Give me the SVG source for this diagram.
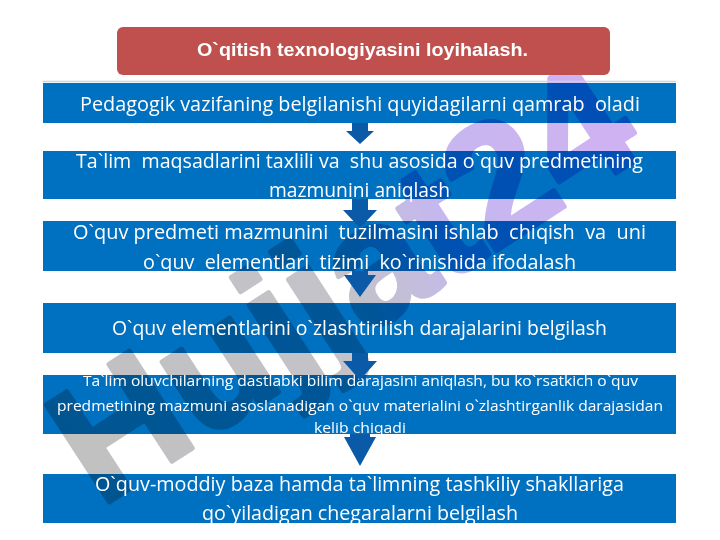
<svg xmlns="http://www.w3.org/2000/svg" width="720" height="540" viewBox="0 0 720 540">
<style>
.box{fill:#0070c0;mix-blend-mode:multiply}
.t{font-family:"Open Sans","Noto Sans","DejaVu Sans",sans-serif;font-size:20px;fill:#ffffff;white-space:pre}
.s{font-size:15px}
.arr{fill:#0a5aa8}
.hd{font-family:"Liberation Sans",Arial,sans-serif;font-size:19px;font-weight:bold;fill:#ffffff}
.wm{font-family:"Liberation Sans",Arial,sans-serif;font-size:168px;font-weight:bold}
</style>
<defs>
<linearGradient id="wg" gradientUnits="userSpaceOnUse" x1="0" y1="0" x2="655" y2="0">
<stop offset="0" stop-color="#666666"/>
<stop offset="0.5" stop-color="#6a6a7a"/>
<stop offset="0.68" stop-color="#7050d8"/>
<stop offset="1" stop-color="#8a40e0"/>
</linearGradient>
</defs>
<rect width="720" height="540" fill="#ffffff"/>
<g id="watermark" opacity="0.4">
<text class="wm" transform="translate(100,508) rotate(-33)" fill="url(#wg)" stroke="url(#wg)" stroke-width="5" stroke-linejoin="round">Hujjat24</text>
</g>
<g id="header">
<rect x="117" y="27" width="493" height="48" rx="6" fill="#c0504d"/>
<text class="hd" x="197" y="56" textLength="331" lengthAdjust="spacingAndGlyphs">O`qitish texnologiyasini loyihalash.</text>
</g>
<line x1="43" y1="81.5" x2="676" y2="81.5" stroke="#c5d6ea" stroke-width="1.5"/>
<g id="n1">
<rect class="box" x="43" y="83" width="633" height="40"/>
<text class="t" x="80" y="111" textLength="560" lengthAdjust="spacingAndGlyphs" xml:space="preserve">Pedagogik vazifaning belgilanishi quyidagilarni qamrab  oladi</text>
</g>
<g id="n2">
<rect class="box" x="43" y="151" width="633" height="48"/>
<text class="t" x="76" y="168" textLength="567" lengthAdjust="spacingAndGlyphs" xml:space="preserve">Ta`lim  maqsadlarini taxlili va  shu asosida o`quv predmetining</text>
<text class="t" x="269" y="197" textLength="181" lengthAdjust="spacingAndGlyphs">mazmunini aniqlash</text>
</g>
<g id="n3">
<rect class="box" x="43" y="221" width="633" height="50"/>
<text class="t" x="73" y="239" textLength="573" lengthAdjust="spacingAndGlyphs" xml:space="preserve">O`quv predmeti mazmunini  tuzilmasini ishlab  chiqish  va  uni</text>
<text class="t" x="143" y="269" textLength="433" lengthAdjust="spacingAndGlyphs" xml:space="preserve">o`quv  elementlari  tizimi  ko`rinishida ifodalash</text>
</g>
<g id="n4">
<rect class="box" x="43" y="303" width="633" height="50"/>
<text class="t" x="112" y="335" textLength="495" lengthAdjust="spacingAndGlyphs">O`quv elementlarini o`zlashtirilish darajalarini belgilash</text>
</g>
<g id="n5">
<rect class="box" x="43" y="375" width="633" height="59"/>
<text class="t s" x="83" y="386" textLength="555" lengthAdjust="spacingAndGlyphs">Ta`lim oluvchilarning dastlabki bilim darajasini aniqlash, bu ko`rsatkich o`quv</text>
<text class="t s" x="57" y="411" textLength="606" lengthAdjust="spacingAndGlyphs">predmetining mazmuni asoslanadigan o`quv materialini o`zlashtirganlik darajasidan</text>
<text class="t s" x="314" y="433" textLength="92" lengthAdjust="spacingAndGlyphs">kelib chiqadi</text>
</g>
<g id="n6">
<rect class="box" x="43" y="474" width="633" height="49"/>
<text class="t" x="95" y="491" textLength="529" lengthAdjust="spacingAndGlyphs">O`quv-moddiy baza hamda ta`limning tashkiliy shakllariga</text>
<text class="t" x="202" y="520" textLength="316" lengthAdjust="spacingAndGlyphs">qo`yiladigan chegaralarni belgilash</text>
</g>
<g id="connectors">
<path class="arr" d="M352,123 H368 V131 H374 L360,144 L346,131 H352 Z"/>
<path class="arr" d="M352,199 H368 V210 H377 L360,228 L343,210 H352 Z"/>
<path class="arr" d="M352,271 H368 V275 H376 L360,297 L344,275 H352 Z"/>
<path class="arr" d="M352,353 H368 V361 H377 L360,380 L343,361 H352 Z"/>
<path class="arr" d="M350,434 H370 V437 H376 L360,466 L344,437 H350 Z"/>
</g>
</svg>
